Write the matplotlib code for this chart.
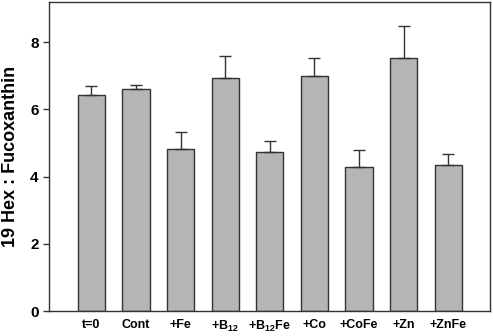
import matplotlib
matplotlib.use("Agg")
import matplotlib.pyplot as plt

plt.rcParams['font.family'] = ['Liberation Sans', 'DejaVu Sans']
plt.rcParams['font.weight'] = 'bold'
plt.rcParams['mathtext.fontset'] = 'custom'
plt.rcParams['mathtext.rm'] = 'Liberation Sans:bold'
plt.rcParams['mathtext.bf'] = 'Liberation Sans:bold'
plt.rcParams['mathtext.default'] = 'bf'

labels = ["t=0", "Cont", "+Fe", "+B$_{12}$", "+B$_{12}$Fe", "+Co", "+CoFe", "+Zn", "+ZnFe"]
ratio = [6.44, 6.62, 4.81, 6.94, 4.73, 7.01, 4.29, 7.52, 4.34]
err = [0.25, 0.11, 0.51, 0.64, 0.34, 0.51, 0.50, 0.96, 0.33]

fig = plt.figure(figsize=(4.93, 3.36), dpi=100)
ax = fig.add_axes([0.0994, 0.0744, 0.8946, 0.9196])

x = list(range(len(labels)))
ax.bar(x, ratio, width=0.61, color='#b5b5b5', edgecolor='#333333', linewidth=1.0,
       yerr=[[0] * len(err), err], capsize=4,
       error_kw=dict(ecolor='#333333', elinewidth=1.0, capthick=1.0))

ax.set_xlim(-0.95, 8.94)
ax.set_ylim(0, 9.2)
ax.set_yticks([0, 2, 4, 6, 8])
ax.set_xticks(x)
ax.set_xticklabels(labels, fontsize=9, fontweight='bold')
ax.tick_params(axis='x', length=0, pad=6)
ax.tick_params(axis='y', direction='out', length=4, labelsize=11, width=1, color='#333333')
for lab in ax.get_yticklabels():
    lab.set_fontweight('bold')
for s in ax.spines.values():
    s.set_color('#333333')
    s.set_linewidth(1.0)

ax.set_ylabel("19 Hex : Fucoxanthin", fontsize=13, fontweight='bold', labelpad=8)

fig.savefig("out.png", dpi=100)
